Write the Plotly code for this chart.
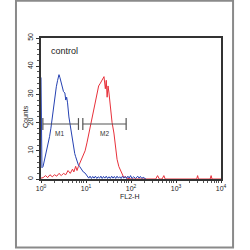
import plotly.graph_objects as go
import math

# ---- data ----
blue_x = [1.0, 1.01, 1.05, 1.11, 1.17, 1.26, 1.32, 1.41, 1.55, 1.66, 1.78, 1.86, 2.0, 2.19, 2.34, 2.51,
          2.63, 2.75, 2.95, 3.16, 3.39, 3.55, 3.72, 3.89, 4.17, 4.37, 4.68, 5.01, 5.25, 5.62, 5.89,
          6.31, 6.76, 7.24, 7.94, 8.71, 9.55, 10.5, 11.5, 12.3, 13.2, 14.1, 15.1, 16.2, 17.4,
          18.6, 20.0, 21.4, 22.9, 24.5, 26.3, 28.2, 30.2, 32.4, 34.7, 37.2, 39.8, 42.7, 45.7,
          49.0, 52.5, 56.2, 60.3, 64.6, 69.2, 74.1, 79.4, 85.1, 91.2, 97.7, 105, 115, 126, 141,
          151, 162, 174, 186, 200, 214]
blue_y = [36, 7, 4, 4.4, 6, 8.5, 9.2, 12, 15, 18, 22, 24.5, 28, 32.7, 35, 37,
          36, 35, 33, 31, 30.5, 28, 29, 27, 22, 19.8, 17, 15, 12, 9, 7.9,
          6, 5, 4.4, 3.5, 2.5, 2.1, 1.2, 0.3, 1, 0.2, 0.9, 0.3, 1, 0.2,
          0.8, 0.3, 1, 0.2, 0.9, 0.3, 1, 0.2, 0.8, 0.2, 1, 0.3, 0.9, 0.2,
          1, 0.3, 0.8, 0.2, 1, 0.3, 0.9, 0.2, 1, 0.3, 1.2, 0.2, 0.8, 0.2, 1,
          0.3, 0.9, 0.2, 0.6, 0.1, 0]

red_x = [1.0, 1.12, 1.26, 1.41, 1.58, 1.78, 2.0, 2.24, 2.51, 2.82, 3.16, 3.55, 3.98, 4.47,
         5.01, 5.37, 5.89, 6.31, 6.76, 7.41, 8.32, 9.55, 10.5, 11.5, 12.6, 13.5, 14.8, 16.2,
         17.8, 19.1, 20.9, 22.9, 25.1, 26.9, 28.2, 29.5, 30.9, 32.4, 33.9, 36.3, 38.0, 41.7,
         43.7, 46.8, 49.0, 53.7, 58.9, 63.1, 69.2, 75.9, 83.2, 100, 158, 355, 389, 427, 490,
         537, 575, 2880, 3020, 3160, 5750, 6030, 6310, 10000]
red_y = [0.3, 0.5, 1.2, 0.5, 1.5, 0.8, 1.5, 1, 2, 1.2, 2, 1.5, 3, 2,
         3.5, 2.5, 4.5, 3, 4.4, 6, 7.9, 10, 12.8, 16, 18.5, 21, 24.5, 28,
         30.5, 33, 34, 35, 36.3, 32, 35, 29, 33, 30.5, 27, 24.5, 20, 16.3,
         13, 10.3, 7, 4.4, 3, 1.4, 0.5, 0.8, 0.2, 0, 0, 0, 1.2, 0, 0,
         1.2, 0, 0, 1.2, 0, 0, 1.2, 0, 0]

gate_names = ["M1", "M2"]
gate_lo = [1.1, 8.5]
gate_hi = [6.8, 78]
gate_level = 19.5
gate_label_x = [2.6, 25.6]

y_ticks = [0, 10, 20, 30, 40, 50]
x_ticks = [1, 10, 100, 1000, 10000]
x_ticktext = ["10<sup>0</sup>", "10<sup>1</sup>", "10<sup>2</sup>", "10<sup>3</sup>", "10<sup>4</sup>"]

fig = go.Figure()
fig.add_trace(go.Scatter(x=red_x, y=red_y, mode="lines",
                         line=dict(color="#e8303a", width=1), hoverinfo="skip"))
fig.add_trace(go.Scatter(x=blue_x, y=blue_y, mode="lines",
                         line=dict(color="#2541b2", width=1), hoverinfo="skip"))

gx, gy = [], []
for lo, hi in zip(gate_lo, gate_hi):
    gx += [lo, lo, None, lo, hi, None, hi, hi, None]
    gy += [gate_level - 2.1, gate_level + 2.1, None, gate_level, gate_level, None,
           gate_level - 2.1, gate_level + 2.1, None]
fig.add_trace(go.Scatter(x=gx, y=gy, mode="lines",
                         line=dict(color="#555555", width=1.2), hoverinfo="skip"))

for name, lx in zip(gate_names, gate_label_x):
    fig.add_annotation(x=math.log10(lx), y=gate_level - 3.2, text=name, showarrow=False,
                       font=dict(size=6.5, color="#333333"))

fig.add_annotation(xref="paper", yref="paper", x=0.044, y=0.908, text="control",
                   showarrow=False, xanchor="left", yanchor="middle",
                   font=dict(size=9, color="#222222"))
fig.add_annotation(xref="paper", yref="paper", x=0.494, y=-0.125, text="FL2-H",
                   showarrow=False, xanchor="center", yanchor="middle",
                   font=dict(size=7, color="#222222"))
fig.add_annotation(xref="paper", yref="paper", x=-0.083, y=0.44, text="Counts",
                   showarrow=False, textangle=-90, xanchor="center", yanchor="middle",
                   font=dict(size=7, color="#222222"))

# outer frame
fig.add_shape(type="rect", xref="paper", yref="paper",
              x0=-0.139, x1=1.067, y0=-0.485, y1=1.265,
              line=dict(color="#8a8a8a", width=2), layer="below")

fig.update_layout(
    width=250, height=250,
    margin=dict(l=41, r=29, t=38, b=71),
    paper_bgcolor="white", plot_bgcolor="white",
    showlegend=False,
    font=dict(family="Liberation Sans, Arial, sans-serif", size=7, color="#222222"),
)
fig.update_xaxes(type="log", range=[0, 4], tickvals=x_ticks, ticktext=x_ticktext,
                 showgrid=False, zeroline=False, showline=True, linecolor="#333333",
                 linewidth=1.5, mirror=True, ticks="outside", ticklen=2, tickcolor="#333333",
                 tickfont=dict(size=7),
                 minor=dict(ticks="outside", ticklen=2, dtick="D1", tickcolor="#555555",
                            showgrid=False))
fig.update_yaxes(range=[0, 50], tickvals=y_ticks, tickangle=-90,
                 showgrid=False, zeroline=False, showline=True, linecolor="#333333",
                 linewidth=1.5, mirror=True, ticks="outside", ticklen=3, tickcolor="#333333",
                 tickfont=dict(size=7),
                 minor=dict(ticks="outside", ticklen=2, dtick=2, tickcolor="#555555",
                            showgrid=False))

fig.write_html("out.html")
